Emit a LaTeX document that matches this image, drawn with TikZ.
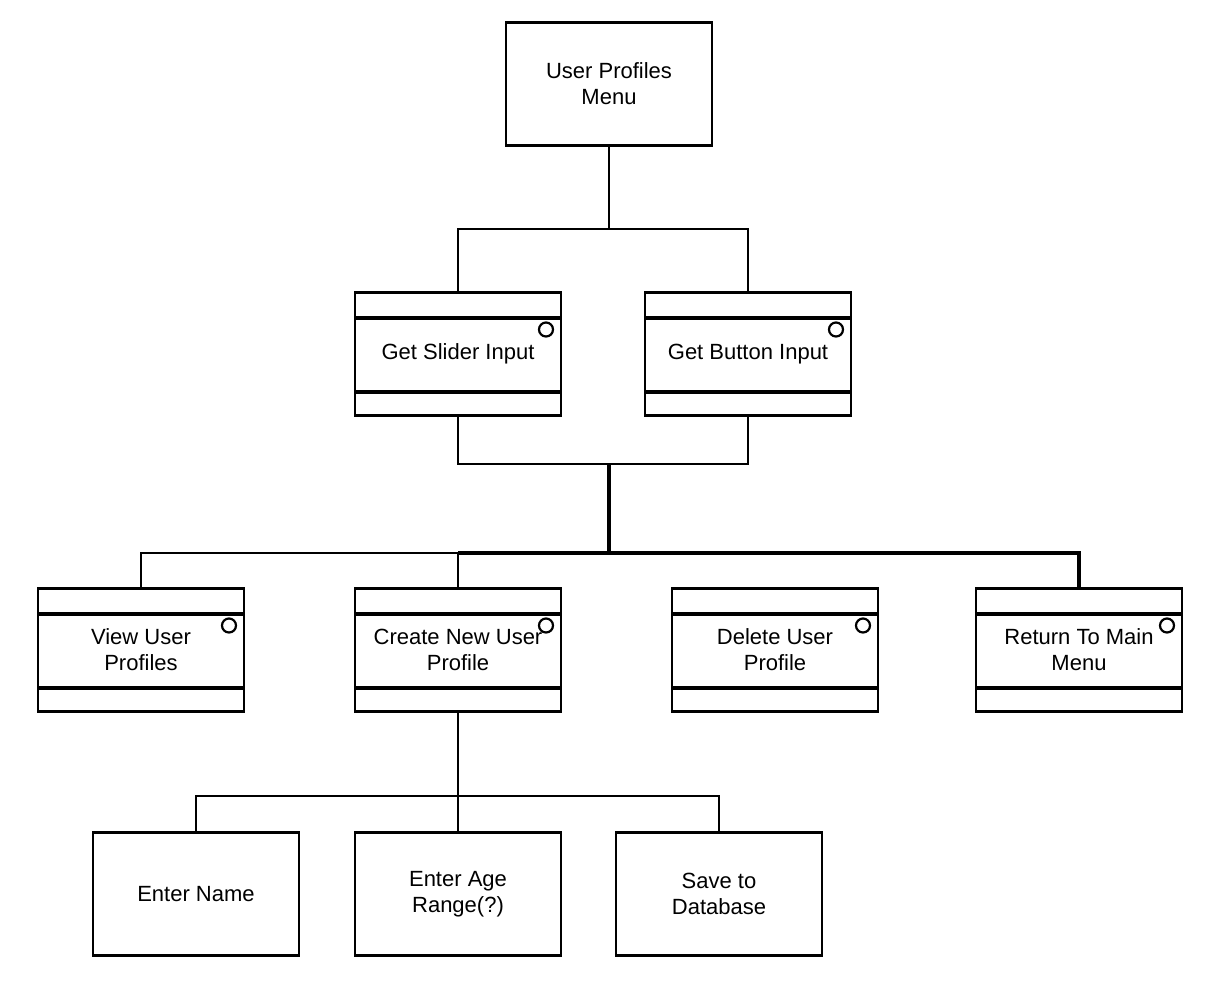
\documentclass[tikz,border=0pt]{standalone}
\usepackage{fontspec}
\setmainfont{Liberation Sans}
\usetikzlibrary{positioning}

\begin{document}
\begin{tikzpicture}[x=1pt,y=-1pt,line width=2.2pt,
  box/.style={draw,rectangle,line width=2.5pt,minimum width=206pt,minimum height=123pt,
    align=center,font=\fontsize{22}{26}\selectfont},
  module/.style={box,path picture={
    \draw[line width=4pt] ([yshift=-25pt]path picture bounding box.north west) -- ([yshift=-25pt]path picture bounding box.north east);
    \draw[line width=4pt] ([yshift=24pt]path picture bounding box.south west) -- ([yshift=24pt]path picture bounding box.south east);
    \draw[line width=2.2pt] ([xshift=-15pt,yshift=-37pt]path picture bounding box.north east) circle (7pt);}},
  bus/.style={line width=3.5pt}]
\useasboundingbox (0,0) rectangle (1220,986);

\node[box] (menu) at (609,84) {User Profiles\\Menu};
\node[module] (slider) at (458,354) {Get Slider Input};
\node[module] (button) at (748,354) {Get Button Input};
\node[module] (view) at (141,650) {View User\\Profiles};
\node[module] (create) at (458,650) {Create New User\\Profile};
\node[module] (delete) at (775,650) {Delete User\\Profile};
\node[module] (ret) at (1079,650) {Return To Main\\Menu};
\node[box] (name) at (196,894) {Enter Name};
\node[box] (age) at (458,894) {Enter Age\\Range(?)};
\node[box] (save) at (719,894) {Save to\\Database};

\coordinate (j1) at (609,229);
\coordinate (j2) at (609,464);
\coordinate (j3) at (609,553);
\coordinate (j4) at (458,796);

\draw (menu.south) -- (j1);
\draw (slider.north) |- (j1) -| (button.north);
\draw (slider.south) |- (j2) -| (button.south);
\draw[bus] (j2) -- (j3);
\draw (view.north) |- (create.north |- j3) -- (create.north);
\draw[bus] (create.north |- j3) -| (ret.north);
\draw (create.south) -- (j4) -- (age.north);
\draw (name.north) |- (j4) -| (save.north);
\end{tikzpicture}
\end{document}
